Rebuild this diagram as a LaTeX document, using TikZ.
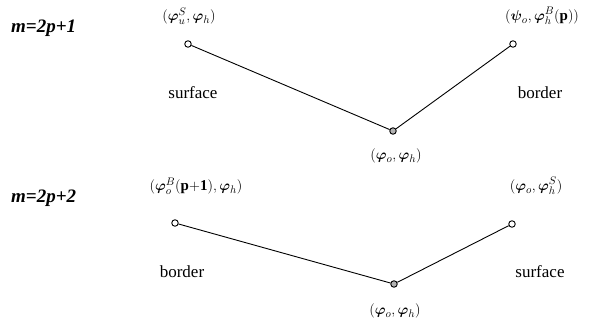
\documentclass[tikz,border=0pt]{standalone}
\usepackage{amsmath}
\usepackage{fontspec}
\setmainfont{Liberation Serif}
\begin{document}
\begin{tikzpicture}[x=1pt,y=-1pt,
  open/.style={circle,draw,line width=0.9pt,inner sep=0pt,minimum size=6.5pt,fill=white},
  mid/.style={circle,draw,line width=0.9pt,inner sep=0pt,minimum size=6.5pt,fill=gray!60},
  lbl/.style={font=\fontsize{15}{17}\selectfont\bfseries,inner sep=0pt},
  word/.style={font=\fontsize{17}{19}\selectfont,inner sep=0pt},
  mlab/.style={font=\fontsize{19}{21}\selectfont\bfseries\itshape,anchor=west,inner sep=0pt},
  conn/.style={line width=0.9pt}]
\useasboundingbox (0,0) rectangle (605,323);
% row 1
\node[mlab] (m1) at (11,28) {m=2p+1};
\node[open] (a1) at (188,44) {};
\node[mid] (b1) at (393,131) {};
\node[open] (c1) at (513,44) {};
\draw[conn] (a1) -- (b1) -- (c1);
\node[lbl] (la1) at (189,16) {$(\boldsymbol{\varphi}^{S}_{u},\boldsymbol{\varphi}_{h})$};
\node[lbl] (lc1) at (542,16) {$(\boldsymbol{\psi}_{o},\boldsymbol{\varphi}^{B}_{h}(\mathbf{p}))$};
\node[lbl] (lb1) at (396,156) {$(\boldsymbol{\varphi}_{o},\boldsymbol{\varphi}_{h})$};
\node[word] (s1) at (193,93) {surface};
\node[word] (r1) at (540,93) {border};
% row 2
\node[mlab] (m2) at (11,198) {m=2p+2};
\node[open] (a2) at (175,223) {};
\node[mid] (b2) at (394,284) {};
\node[open] (c2) at (512,224) {};
\draw[conn] (a2) -- (b2) -- (c2);
\node[lbl] (la2) at (196,186) {$(\boldsymbol{\varphi}^{B}_{o}(\mathbf{p{+}1}),\boldsymbol{\varphi}_{h})$};
\node[lbl] (lc2) at (536,186) {$(\boldsymbol{\varphi}_{o},\boldsymbol{\varphi}^{S}_{h})$};
\node[lbl] (lb2) at (395,311) {$(\boldsymbol{\varphi}_{o},\boldsymbol{\varphi}_{h})$};
\node[word] (s2) at (182,272) {border};
\node[word] (r2) at (540,272) {surface};
\end{tikzpicture}
\end{document}
